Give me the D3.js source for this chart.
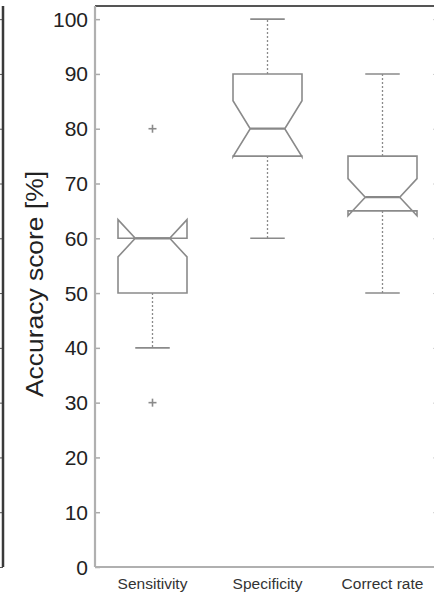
<!DOCTYPE html>
<html>
<head>
<meta charset="utf-8">
<script src="https://cdn.jsdelivr.net/npm/d3@7"></script>
<style>
  html, body { margin: 0; padding: 0; background: #fff; }
  svg { display: block; font-family: "Liberation Sans", Arial, sans-serif; }
</style>
</head>
<body>
<div id="chart"></div>
<script>
// data
const categories = ["Sensitivity", "Specificity", "Correct rate"];
const whiskerLow = [40, 60, 50];
const q1 = [50, 75, 65];
const median = [60, 80, 67.5];
const q3 = [60, 90, 75];
const whiskerHigh = [60, 100, 90];
const notchLow = [56.6, 74.9, 64.1];
const notchHigh = [63.4, 85.1, 70.9];
const outliers = [[30, 80], [], []];
const yTicks = [0, 10, 20, 30, 40, 50, 60, 70, 80, 90, 100];

const width = 434, height = 596;
const margin = { left: 95, right: -6, top: 6, bottom: 28 };

const svg = d3.select("#chart")
  .append("svg")
  .attr("width", width)
  .attr("height", height);

const x = d3.scaleLinear()
  .domain([0.5, 3.5])
  .range([margin.left, width - margin.right]);

const y = d3.scaleLinear()
  .domain([0, 102.4])
  .range([height - margin.bottom - 1, margin.top]);

const boxColor = "#8a8a8a";

// neighbouring panel edge on the far left
svg.append("g")
  .attr("transform", "translate(3,0)")
  .call(d3.axisLeft(y).tickValues(yTicks).tickSize(3).tickFormat(""))
  .call(g => g.select(".domain").remove())
  .call(g => g.selectAll("line").attr("stroke", "#555"));
svg.append("line")
  .attr("x1", 3).attr("x2", 3)
  .attr("y1", y.range()[1]).attr("y2", y.range()[0])
  .attr("stroke", "#3a3a3a")
  .attr("stroke-width", 2.5);

// y axis, ticks pointing inward
const yAxis = svg.append("g")
  .attr("transform", `translate(${margin.left},0)`)
  .call(d3.axisRight(y).tickValues(yTicks).tickSize(5).tickFormat(""));
yAxis.select(".domain").remove();
yAxis.selectAll("line").attr("stroke", "#aaa").attr("stroke-width", 1.5);

yTicks.forEach(t => {
  svg.append("text")
    .attr("x", 88)
    .attr("y", y(t))
    .attr("dy", "0.36em")
    .attr("text-anchor", "end")
    .attr("font-size", 21)
    .attr("fill", "#222")
    .text(t);
});

// right axis ticks (axis itself is just off the picture)
svg.append("g")
  .attr("transform", `translate(${x(3.5)},0)`)
  .call(d3.axisLeft(y).tickValues(yTicks).tickSize(7).tickFormat(""))
  .call(g => g.select(".domain").remove())
  .call(g => g.selectAll("line").attr("stroke", "#ccc"));

// frame
svg.append("line")
  .attr("x1", margin.left).attr("x2", width)
  .attr("y1", y.range()[1]).attr("y2", y.range()[1])
  .attr("stroke", "#555").attr("stroke-width", 2);
svg.append("line")
  .attr("x1", margin.left).attr("x2", margin.left)
  .attr("y1", y.range()[1]).attr("y2", y.range()[0])
  .attr("stroke", "#b0b0b0").attr("stroke-width", 2.2);
svg.append("line")
  .attr("x1", margin.left).attr("x2", width)
  .attr("y1", y.range()[0]).attr("y2", y.range()[0])
  .attr("stroke", "#b0b0b0").attr("stroke-width", 2.2);

// y label
svg.append("text")
  .attr("transform", "translate(43,284) rotate(-90)")
  .attr("text-anchor", "middle")
  .attr("font-size", 23.5)
  .attr("textLength", 226)
  .attr("lengthAdjust", "spacingAndGlyphs")
  .attr("fill", "#222")
  .text("Accuracy score [%]");

// x labels
categories.forEach((c, i) => {
  svg.append("text")
    .attr("x", x(i + 1))
    .attr("y", 589)
    .attr("text-anchor", "middle")
    .attr("font-size", 15.5)
    .attr("fill", "#333")
    .text(c);
});

// boxes
const hw = (x(1) - x(0)) * 0.3;
const nw = hw / 2;

const boxes = svg.selectAll(".box-group")
  .data(categories)
  .enter()
  .append("g")
  .attr("class", "box-group");

// whiskers
boxes.append("line")
  .attr("x1", (d, i) => x(i + 1)).attr("x2", (d, i) => x(i + 1))
  .attr("y1", (d, i) => y(q3[i])).attr("y2", (d, i) => y(whiskerHigh[i]))
  .attr("stroke", boxColor).attr("stroke-width", 1.3)
  .attr("stroke-dasharray", "2,2");
boxes.append("line")
  .attr("x1", (d, i) => x(i + 1)).attr("x2", (d, i) => x(i + 1))
  .attr("y1", (d, i) => y(q1[i])).attr("y2", (d, i) => y(whiskerLow[i]))
  .attr("stroke", boxColor).attr("stroke-width", 1.3)
  .attr("stroke-dasharray", "2,2");

// caps
[whiskerLow, whiskerHigh].forEach(arr => {
  boxes.append("line")
    .attr("x1", (d, i) => x(i + 1) - nw).attr("x2", (d, i) => x(i + 1) + nw)
    .attr("y1", (d, i) => y(arr[i])).attr("y2", (d, i) => y(arr[i]))
    .attr("stroke", boxColor).attr("stroke-width", 1.6);
});

// notched box outline
boxes.append("path")
  .attr("d", (d, i) => {
    const c = x(i + 1);
    const p = d3.path();
    p.moveTo(c - hw, y(q1[i]));
    p.lineTo(c - hw, y(notchLow[i]));
    p.lineTo(c - nw, y(median[i]));
    p.lineTo(c - hw, y(notchHigh[i]));
    p.lineTo(c - hw, y(q3[i]));
    p.lineTo(c + hw, y(q3[i]));
    p.lineTo(c + hw, y(notchHigh[i]));
    p.lineTo(c + nw, y(median[i]));
    p.lineTo(c + hw, y(notchLow[i]));
    p.lineTo(c + hw, y(q1[i]));
    p.closePath();
    return p.toString();
  })
  .attr("fill", "none")
  .attr("stroke", boxColor)
  .attr("stroke-width", 1.6);

// median
boxes.append("line")
  .attr("x1", (d, i) => x(i + 1) - nw).attr("x2", (d, i) => x(i + 1) + nw)
  .attr("y1", (d, i) => y(median[i])).attr("y2", (d, i) => y(median[i]))
  .attr("stroke", "#888").attr("stroke-width", 2.2);

// outliers as '+' marks
categories.forEach((c, i) => {
  outliers[i].forEach(v => {
    const g = svg.append("g")
      .attr("transform", `translate(${x(i + 1)},${y(v)})`)
      .attr("stroke", "#8a8a8a")
      .attr("stroke-width", 1.6);
    g.append("line").attr("x1", -4).attr("x2", 4);
    g.append("line").attr("y1", -4).attr("y2", 4);
  });
});
</script>
</body>
</html>
